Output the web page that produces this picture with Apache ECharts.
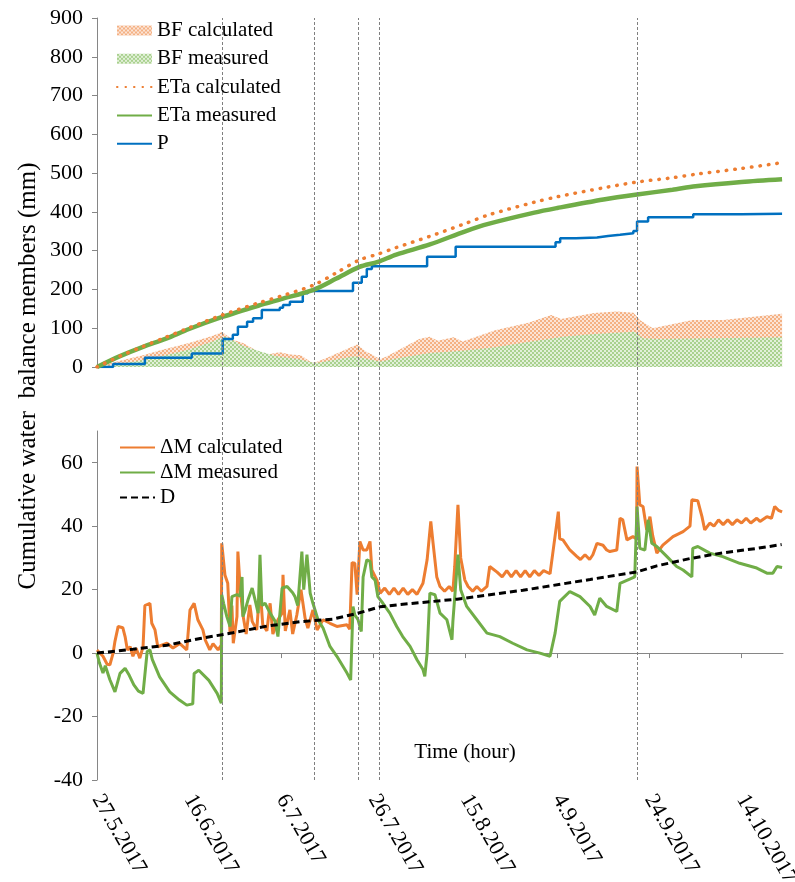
<!DOCTYPE html>
<html>
<head>
<meta charset="utf-8">
<script src="https://cdn.jsdelivr.net/npm/echarts@6/dist/echarts.min.js"></script>
<style>
  html, body { margin: 0; padding: 0; background: #fff; }
  #chart { width: 795px; height: 882px; }
</style>
</head>
<body>
<div id="chart"></div>
<script>
// ---- time axis: days since 27.5.2017 ----
const tickDays = [0, 20, 40, 60, 80, 100, 120, 140];
const tickLabels = ['27.5.2017', '16.6.2017', '6.7.2017', '26.7.2017', '15.8.2017', '4.9.2017', '24.9.2017', '14.10.2017'];
const eventDays = [27.1, 47.1, 56.7, 61.2, 117.3];

// ---- upper panel: cumulative members (mm) ----
const etaDays = [0, 5, 10, 15, 20, 27.2, 35, 40, 47, 52, 57, 61, 65, 72.3, 80, 85, 95, 100, 110, 117.3, 125, 130, 140, 148.8];
const etaMeasured = [0, 28, 52, 73, 98, 129, 158, 175, 199, 228, 258, 271, 290, 316, 350, 369, 398, 410, 432, 445, 457, 466, 477, 484];
const etaCalculated = [0, 28, 53, 77, 101, 134, 165, 183, 211, 243, 276, 291, 308, 337, 370, 392, 425, 439, 462, 477, 488, 497, 512, 527];

const pDays = [0, 3.5, 10.4, 20.6, 27.3, 29.5, 30.6, 32.6, 33.9, 35.8, 39.7, 40.4, 41.9, 44.7, 45.8, 55.6, 57.5, 58.6, 59.7, 71.7, 77.9, 99.6, 100.6, 104, 108.6, 111, 113.6, 116.5, 117.3, 119.7, 129.5, 140, 148.8];
const pValues = [0, 8, 24, 35, 72, 83, 104, 117, 126, 147, 153, 160, 168, 190, 196, 217, 233, 253, 260, 284, 310, 322, 332, 334, 338, 341, 345, 351, 375, 386, 394, 395, 396];

const bfCalcDays = [0, 5, 10, 14, 20, 25, 27.2, 29.5, 31.7, 35, 36.4, 39.7, 42, 44.3, 46.5, 47.5, 50, 56.5, 58.4, 60, 61.5, 63, 70, 72.3, 74, 77.5, 79.4, 86.5, 93.7, 98.7, 100.8, 108, 112.9, 116.5, 117.9, 120.7, 129.4, 136, 148.8];
const bfCalcValues = [0, 16, 30, 44, 62, 80, 90, 70, 62, 40, 31, 38, 32, 30, 12, 12, 24, 58, 40, 30, 20, 28, 72, 78, 68, 77, 66, 95, 114, 134, 124, 139, 143, 140, 121, 100, 121, 121, 137];
const bfMeasDays = [0, 5, 10, 14, 20, 25, 27.2, 28, 31.7, 35.5, 39, 44, 46.5, 48, 56, 59, 61.5, 66, 70.6, 72.3, 79.4, 86.5, 94, 101.2, 108, 116.8, 118.5, 122, 148.8];
const bfMeasValues = [0, 8, 18, 28, 45, 65, 76, 78, 55, 40, 28, 20, 12, 11, 28, 20, 14, 24, 33, 36, 42, 51, 65, 78, 85, 91, 74, 72, 77];

// ---- lower panel: storage change and drainage (mm) ----
const dmCalcDays = [0, 1.3, 2.2, 2.8, 3.5, 3.9, 4.6, 5.6, 6.1, 6.6, 7.2, 7.8, 8.5, 9.3, 10.0, 10.4, 11.5, 11.9, 12.6, 13.2, 15.2, 16.5, 18.0, 19.5, 20.2, 21.1, 21.9, 23.0, 23.5, 24.5, 25.2, 26.3, 27.0, 27.1, 27.8, 28.4, 28.9, 29.3, 29.6, 30.4, 30.6, 31.1, 31.7, 32.4, 33.2, 33.7, 34.7, 35.4, 36.0, 36.9, 37.6, 38.2, 39.3, 40.2, 40.4, 40.9, 41.9, 42.5, 43.4, 44.3, 45.2, 45.8, 46.9, 47.8, 49.1, 50.6, 52.1, 54.3, 54.9, 55.4, 56.0, 56.5, 57.1, 57.8, 58.6, 59.3, 59.7, 60.8, 61.5, 62.5, 63.5, 64.5, 65.5, 66.5, 67.5, 68.5, 69.5, 70.8, 71.7, 72.5, 73.0, 73.8, 74.5, 75.5, 76.5, 77.3, 77.7, 78.4, 79.0, 79.9, 80.6, 81.6, 82.5, 83.5, 84.7, 85.3, 86.9, 88, 89, 90, 91, 92, 93, 94, 95, 96, 97, 98.4, 99.0, 100.2, 100.5, 101.2, 102.7, 104.2, 105, 106, 107, 107.7, 108.6, 109.9, 110.7, 111.4, 112.9, 113.6, 114.2, 115.1, 116.4, 117.2, 117.3, 117.9, 118.6, 119.4, 120.1, 120.7, 121.6, 122.9, 125.1, 127.3, 128.8, 129.2, 130.5, 131.4, 132, 133.1, 134, 135, 136, 137, 138, 139, 140, 141, 142, 143.3, 144, 145.5, 146.5, 147.2, 148, 148.8];
const dmCalcValues = [1, -1, -3.5, -3.7, 0, 3.7, 8.4, 8, 5.2, 1, 2, -1, 1.5, -1.6, 2, 15, 15.7, 9.4, 7.3, 2, 3.1, 1.6, 3, 1, 13.6, 15.7, 10.5, 7.3, 4.2, 1, 3, 1, 2.5, 34.6, 24.5, 22, 6.3, 15, 3.1, 11.5, 32, 20.5, 12, 6, 15.2, 10, 7.3, 21, 9, 7, 15.7, 6, 10.5, 12.6, 24.7, 7, 13.6, 6, 12, 20, 11, 7.9, 13.6, 7.3, 10.5, 9.4, 8.4, 8.9, 7.5, 28.5, 28.3, 18.4, 35.2, 32.5, 32.5, 35.2, 26.2, 23, 18.9, 20.5, 18.5, 20.5, 18.5, 20.5, 18.5, 20, 18.5, 22, 29.4, 41.5, 34.6, 24, 21, 19.5, 21, 19.5, 27.3, 46.7, 30, 23, 21, 19.5, 21, 19.5, 21, 27.3, 25.5, 24, 26, 24, 26, 24, 26, 24, 26, 24.5, 26, 25, 31.5, 44.6, 36, 35.7, 32.5, 30.5, 29.5, 31, 29.5, 31, 34.6, 34, 32.5, 32, 32.5, 42.5, 42, 35.7, 36.7, 36, 58.8, 46.7, 46.2, 38.8, 43, 37, 31.5, 34, 36.7, 38.3, 40, 48.3, 48, 43, 38.8, 41, 40, 42, 40.5, 42, 40.5, 42, 41, 42.5, 41, 42.5, 41.5, 43, 42.5, 46.2, 45, 44.5];

const dmMeasDays = [0, 0.5, 1.3, 1.8, 2.8, 3.9, 5.0, 6.1, 7, 8, 9, 10.0, 10.4, 10.9, 11.5, 12.0, 13.6, 15.8, 17.9, 19.5, 20.8, 21.1, 22.1, 24.3, 26.1, 27.0, 27.1, 27.5, 28.2, 28.9, 29.3, 30.4, 31.1, 31.5, 31.7, 32.2, 32.8, 33.7, 34.3, 35.0, 35.4, 35.8, 36.5, 37.6, 38.7, 39.3, 40.2, 41.3, 42.5, 43.0, 43.6, 44.5, 44.9, 45.6, 46.3, 46.9, 48.0, 49.1, 50.6, 52.1, 54.3, 55.1, 55.6, 56.0, 56.7, 57.4, 57.8, 58.6, 59.3, 59.7, 60.4, 61.0, 62.1, 63.6, 65.1, 66.4, 68.0, 69.5, 70.8, 71.2, 71.7, 72.3, 73.4, 74.5, 76.0, 77.1, 77.3, 78.4, 79.0, 80.3, 82.5, 84.7, 87.5, 90.3, 93.4, 96.2, 98.4, 99.5, 100.5, 102.7, 104.9, 107.1, 108.1, 109.2, 110.7, 112.9, 113.6, 115.7, 116.8, 117.3, 117.9, 119.0, 119.7, 120.5, 121.6, 123.8, 125.9, 127.3, 129.2, 129.4, 130.5, 133.1, 135.9, 139.6, 143.3, 145.5, 146.8, 147.7, 148.8];
const dmMeasValues = [0, -3, -6.3, -4, -8.4, -12.2, -6.4, -4.8, -7, -10, -12, -12.7, -13, 0.5, 1, -2, -7.5, -12.2, -14.8, -16.4, -16, -6.4, -5.4, -8.6, -12.7, -15.8, 18.4, 15.7, 11.5, 8.4, 17.8, 18.4, 18, 24, 11.5, 13.6, 16.8, 20.5, 17, 12.6, 31, 15, 15.7, 12.6, 10, 5.2, 20.5, 21, 19, 17.8, 15, 32, 20, 31, 18.9, 15.7, 10.5, 7.9, 2.1, -1, -6.3, -8.5, 14.7, 12, 10.5, 6.8, 24, 29.4, 28.9, 24, 23, 17.8, 15.7, 12.6, 8.4, 5.2, 2.1, -2.1, -5.2, -7.3, 0, 18.9, 18.4, 12.6, 10.5, 4.2, 10, 31, 20, 14.7, 10.5, 6.3, 5.2, 3.1, 1, 0, -1, 6.3, 16.3, 19.4, 17.8, 14.7, 12, 17.3, 14.7, 13.1, 22, 23.3, 24, 46.2, 33, 32.5, 42, 34.6, 33.6, 30.4, 27.3, 26.2, 24, 33, 33.6, 31.5, 30.4, 28.3, 26.8, 25.2, 25.2, 27.3, 27];

const dDays = [0, 7.8, 15.2, 22.4, 29.5, 36.9, 44.1, 51.2, 56.5, 61.5, 65.8, 78.2, 92.5, 107.1, 117.3, 121.6, 128.8, 135.9, 143.3, 148.7];
const dValues = [0, 1.2, 2.5, 4.6, 6.4, 8.5, 9.9, 10.7, 12.5, 14.6, 15.3, 17.0, 19.8, 23.2, 25.6, 27.5, 29.8, 31.6, 33.0, 34.2];

// ---- helpers ----
const FONT = '"Liberation Serif", "Times New Roman", serif';
const ORANGE = '#ED7D31';
const GREEN = '#70AD47';
const BLUE = '#0070C0';
const AXIS_GREY = '#868686';

function pairs(days, values) {
  return days.map((d, i) => [d, values[i]]);
}

// small checker texture used for the base-flow areas
function checker(fg, bg) {
  const c = document.createElement('canvas');
  c.width = 4; c.height = 4;
  const g = c.getContext('2d');
  g.fillStyle = bg; g.fillRect(0, 0, 4, 4);
  g.fillStyle = fg; g.fillRect(0, 0, 2, 2); g.fillRect(2, 2, 2, 2);
  return { image: c, repeat: 'repeat' };
}
const orangeFill = checker('#F4B183', '#FCE4D6');
const greenFill = checker('#A9D18E', '#E2F0D9');

const tickText = v => {
  const i = tickDays.indexOf(Math.round(v));
  return i >= 0 ? tickLabels[i] : '';
};

// legend entries for line series: keep the line sample, hide the marker
const lineEntry = name => ({ name, itemStyle: { opacity: 0 } });

const X_MIN = 0, X_MAX = 149;
const GRID_LEFT = 97, GRID_RIGHT = 12;

const chart = echarts.init(document.getElementById('chart'), null, { renderer: 'canvas' });

const gridBase = { left: GRID_LEFT, right: GRID_RIGHT, containLabel: false, outerBoundsMode: 'none' };

const option = {
  animation: false,
  backgroundColor: '#fff',
  textStyle: { fontFamily: FONT },
  grid: [
    Object.assign({ top: 18, height: 349 }, gridBase),
    Object.assign({ top: 431, height: 349 }, gridBase),
    Object.assign({ top: 18, height: 762 }, gridBase)
  ],
  xAxis: [
    { gridIndex: 0, type: 'value', min: X_MIN, max: X_MAX, show: false },
    {
      gridIndex: 1, type: 'value', min: X_MIN, max: X_MAX,
      axisLine: { onZero: true, lineStyle: { color: AXIS_GREY, width: 1 } },
      axisTick: { show: true, length: 5, lineStyle: { color: AXIS_GREY }, customValues: tickDays },
      axisLabel: { show: false },
      splitLine: { show: false }
    },
    {
      gridIndex: 1, type: 'value', min: X_MIN, max: X_MAX, position: 'bottom',
      axisLine: { show: false, onZero: false },
      axisTick: { show: false },
      splitLine: { show: false },
      axisLabel: {
        customValues: tickDays, formatter: tickText, rotate: -60, margin: 16,
        fontFamily: FONT, fontSize: 22, color: '#000'
      }
    },
    { gridIndex: 2, type: 'value', min: X_MIN, max: X_MAX, show: false }
  ],
  yAxis: [
    {
      gridIndex: 0, type: 'value', min: 0, max: 900, interval: 100,
      axisLine: { show: true, lineStyle: { color: AXIS_GREY } },
      axisTick: { show: true, length: 5, lineStyle: { color: AXIS_GREY } },
      axisLabel: { fontFamily: FONT, fontSize: 22, color: '#000', margin: 14 },
      splitLine: { show: false }
    },
    {
      gridIndex: 1, type: 'value', min: -40, max: 70, interval: 20,
      axisLine: { show: true, onZero: false, lineStyle: { color: AXIS_GREY } },
      axisTick: { show: true, length: 5, lineStyle: { color: AXIS_GREY }, customValues: [-40, -20, 0, 20, 40, 60] },
      axisLabel: { fontFamily: FONT, fontSize: 22, color: '#000', margin: 14, customValues: [-40, -20, 0, 20, 40, 60] },
      splitLine: { show: false }
    },
    { gridIndex: 2, type: 'value', min: 0, max: 1, show: false }
  ],
  legend: [
    {
      orient: 'vertical', left: 116, top: 20, padding: 0, itemWidth: 35, itemHeight: 10, itemGap: 7.3,
      selectedMode: false,
      textStyle: { fontFamily: FONT, fontSize: 21, color: '#000', lineHeight: 21 },
      data: [
        { name: 'BF calculated', icon: 'rect', itemStyle: { color: orangeFill } },
        { name: 'BF measured', icon: 'rect', itemStyle: { color: greenFill } },
        lineEntry('ETa calculated'),
        lineEntry('ETa measured'),
        lineEntry('P')
      ]
    },
    {
      orient: 'vertical', left: 119, top: 437, padding: 0, itemWidth: 35, itemHeight: 10, itemGap: 4,
      selectedMode: false,
      textStyle: { fontFamily: FONT, fontSize: 21, color: '#000', lineHeight: 21 },
      data: [lineEntry('ΔM calculated'), lineEntry('ΔM measured'), lineEntry('D')]
    }
  ],
  graphic: [
    {
      type: 'text', x: 28, y: 376, rotation: Math.PI / 2,
      style: {
        text: 'Cumulative water  balance members (mm)', font: '25px ' + FONT,
        fill: '#000', align: 'center', verticalAlign: 'middle'
      }
    },
    {
      type: 'text', x: 465, y: 752,
      style: {
        text: 'Time (hour)', font: '21px ' + FONT,
        fill: '#000', align: 'center', verticalAlign: 'middle'
      }
    }
  ],
  series: [
    {
      name: 'BF calculated', type: 'line', xAxisIndex: 0, yAxisIndex: 0,
      data: pairs(bfCalcDays, bfCalcValues), symbol: 'none',
      lineStyle: { width: 0 }, itemStyle: { color: '#F4B183' },
      areaStyle: { color: orangeFill, opacity: 1 }, z: 1
    },
    {
      name: 'BF measured', type: 'line', xAxisIndex: 0, yAxisIndex: 0,
      data: pairs(bfMeasDays, bfMeasValues), symbol: 'none',
      lineStyle: { width: 0 }, itemStyle: { color: '#A9D18E' },
      areaStyle: { color: greenFill, opacity: 1 }, z: 1
    },
    {
      name: 'events', type: 'line', xAxisIndex: 3, yAxisIndex: 2, data: [], silent: true, z: 2,
      markLine: {
        symbol: ['none', 'none'], silent: true, animation: false,
        label: { show: false },
        lineStyle: { color: '#7f7f7f', width: 1, type: [3, 2] },
        data: eventDays.map(d => ({ xAxis: d }))
      }
    },
    {
      name: 'P', type: 'line', xAxisIndex: 0, yAxisIndex: 0, step: 'end',
      data: pairs(pDays, pValues), symbol: 'none',
      lineStyle: { color: BLUE, width: 2.5 }, itemStyle: { color: BLUE }, z: 3
    },
    {
      name: 'ETa measured', type: 'line', xAxisIndex: 0, yAxisIndex: 0, smooth: 0.3,
      data: pairs(etaDays, etaMeasured), symbol: 'none',
      lineStyle: { color: GREEN, width: 4.5 }, itemStyle: { color: GREEN }, z: 4
    },
    {
      name: 'ETa calculated', type: 'line', xAxisIndex: 0, yAxisIndex: 0, smooth: 0.3,
      data: pairs(etaDays, etaCalculated), symbol: 'none',
      lineStyle: { color: ORANGE, width: 3.5, type: [0.5, 8], cap: 'round' }, itemStyle: { color: ORANGE }, z: 5
    },
    {
      name: 'ΔM calculated', type: 'line', xAxisIndex: 1, yAxisIndex: 1,
      data: pairs(dmCalcDays, dmCalcValues), symbol: 'none',
      lineStyle: { color: ORANGE, width: 3 }, itemStyle: { color: ORANGE }, z: 3
    },
    {
      name: 'ΔM measured', type: 'line', xAxisIndex: 1, yAxisIndex: 1,
      data: pairs(dmMeasDays, dmMeasValues), symbol: 'none',
      lineStyle: { color: GREEN, width: 3 }, itemStyle: { color: GREEN }, z: 4
    },
    {
      name: 'D', type: 'line', xAxisIndex: 1, yAxisIndex: 1,
      data: pairs(dDays, dValues), symbol: 'none',
      lineStyle: { color: '#000', width: 3, type: [7, 4] }, itemStyle: { color: '#000' }, z: 5
    }
  ]
};

chart.setOption(option);
</script>
</body>
</html>
